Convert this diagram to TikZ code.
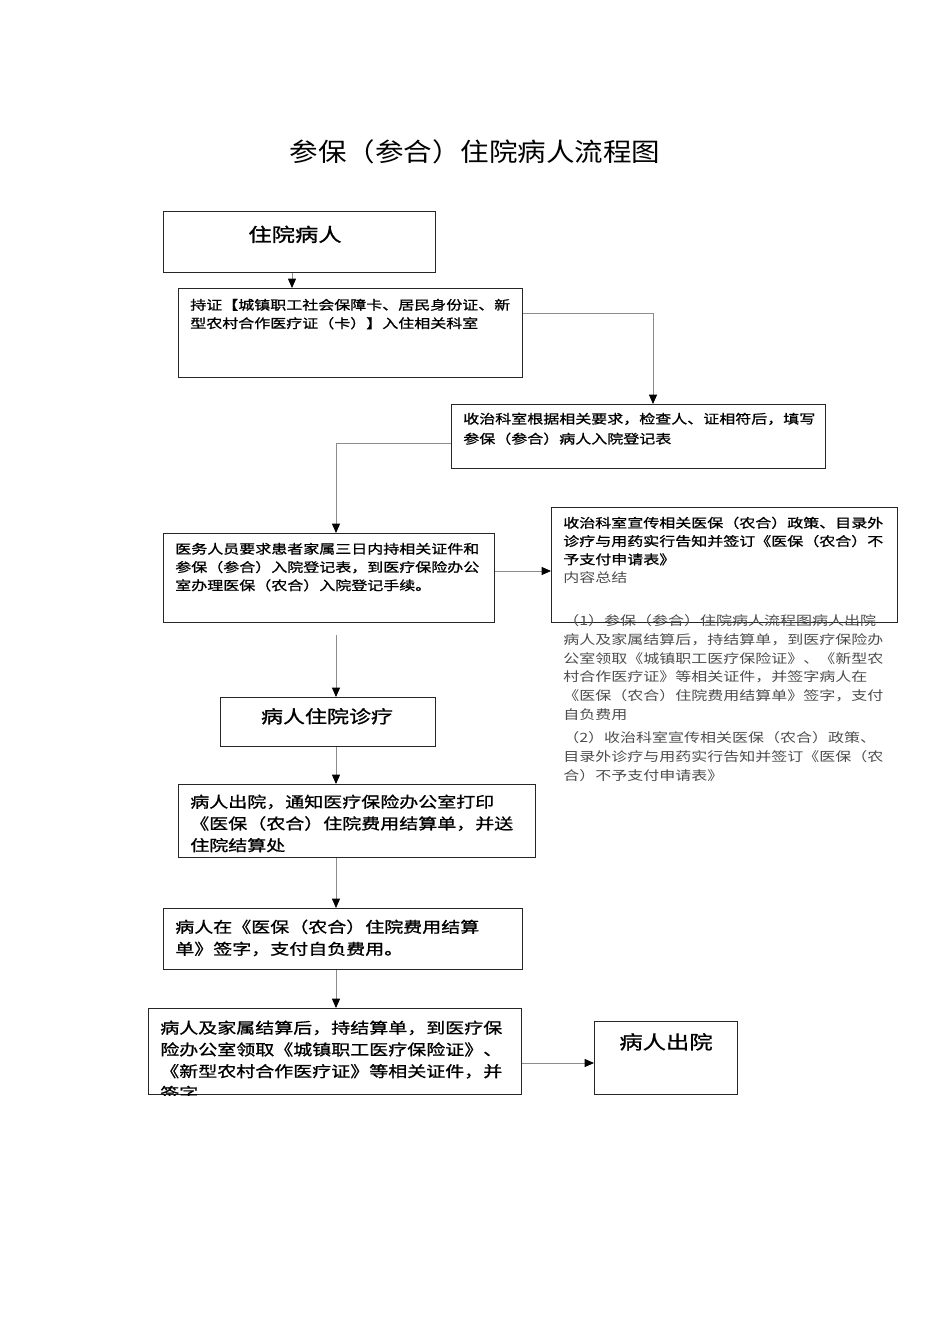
\documentclass[tikz,border=0pt]{standalone}
\usepackage{fontspec}
\setmainfont[FakeStretch=1.25,FakeBold=1]{Noto Sans CJK SC}
\newfontfamily\titlefont[FakeStretch=1.12]{Noto Sans CJK SC}
\newfontfamily\notefont[FakeStretch=1.25]{Noto Sans CJK SC}
\usetikzlibrary{calc,arrows.meta}
\newlength\px
\setlength\px{0.75pt}
\definecolor{note}{gray}{0.3}
\tikzset{
  box/.style={draw=black!85,line width=0.75pt,rectangle,inner sep=0pt,anchor=north west},
  txt/.style={inner sep=0pt,anchor=base west,align=left},
  flow/.style={draw=black!45,line width=0.6pt,-{Triangle[length=7pt,width=6pt,color=black]}},
  small/.style={font=\fontsize{9.6}{13.8}\selectfont},
  mid/.style={font=\fontsize{11.4}{16.3}\selectfont},
  big/.style={font=\fontsize{14}{17}\selectfont},
  notes/.style={text=note,font=\notefont\fontsize{9.6}{14}\selectfont}
}

\begin{document}
\begin{tikzpicture}[x=1\px,y=-1\px]
  \useasboundingbox (0,0) rectangle (950,1344);

  \node (title) at (475,162) [anchor=base,inner sep=0pt,font=\titlefont\fontsize{19.1}{22}\selectfont] {参保（参合）住院病人流程图};

  % boxes
  \node (inpat) at (163,211) [box,minimum width=272\px,minimum height=61\px] {};
  \node (permit) at (178,288) [box,minimum width=344\px,minimum height=89\px] {};
  \node (admit) at (451,404) [box,minimum width=374\px,minimum height=64\px] {};
  \node (staff) at (163,533) [box,minimum width=331\px,minimum height=89\px] {};
  \node (policy) at (551,507) [box,minimum width=346\px,minimum height=115\px] {};
  \node (treat) at (220,697) [box,minimum width=215\px,minimum height=49\px] {};
  \node (notice) at (178,784) [box,minimum width=357\px,minimum height=73\px] {};
  \node (sign) at (163,908) [box,minimum width=359\px,minimum height=61\px] {};
  \node (settle) at (148,1008) [box,minimum width=373\px,minimum height=86\px] {};
  \node (leave) at (594,1021) [box,minimum width=143\px,minimum height=73\px] {};

  % texts (multi-line nodes sit on the baseline of their last line)
  \node (inpatT) at (295,241.5) [txt,big,anchor=base] {住院病人};
  \node (permitT) at (190,328.1) [txt,small] {持证【城镇职工社会保障卡、居民身份证、新\\型农村合作医疗证（卡）】入住相关科室};
  \node (admitT) at (463,443.6) [txt,font=\fontsize{9.6}{15}\selectfont] {收治科室根据相关要求，检查人、证相符后，填写\\参保（参合）病人入院登记表};
  \node (staffT) at (175,590.2) [txt,font=\fontsize{9.6}{13.7}\selectfont] {医务人员要求患者家属三日内持相关证件和\\参保（参合）入院登记表，到医疗保险办公\\室办理医保（农合）入院登记手续。};
  \node (policyT) at (563,582.5) [txt,font=\fontsize{9.6}{13.7}\selectfont] {收治科室宣传相关医保（农合）政策、目录外\\诊疗与用药实行告知并签订《医保（农合）不\\予支付申请表》\\\textcolor{note}{\notefont 内容总结}};
  \node (sumA) at (563,719.1) [txt,notes] {（1）参保（参合）住院病人流程图病人出院\\病人及家属结算后，持结算单，到医疗保险办\\公室领取《城镇职工医疗保险证》、《新型农\\村合作医疗证》等相关证件，并签字病人在\\《医保（农合）住院费用结算单》签字，支付\\自负费用};
  \node (sumB) at (563,780) [txt,notes] {（2）收治科室宣传相关医保（农合）政策、\\目录外诊疗与用药实行告知并签订《医保（农\\合）不予支付申请表》};
  \node (treatT) at (327,723) [txt,anchor=base,font=\fontsize{13.2}{16}\selectfont] {病人住院诊疗};
  \node (noticeT) at (190,851) [txt,mid] {病人出院，通知医疗保险办公室打印\\《医保（农合）住院费用结算单，并送\\住院结算处};
  \node (signT) at (175,954.6) [txt,font=\fontsize{11.4}{16.5}\selectfont] {病人在《医保（农合）住院费用结算\\单》签字，支付自负费用。};
  \begin{scope}
    \clip (settle.north west) rectangle (settle.south east);
    \node (settleT) at (160,1098.7) [txt,mid] {病人及家属结算后，持结算单，到医疗保\\险办公室领取《城镇职工医疗保险证》、\\《新型农村合作医疗证》等相关证件，并\\签字};
  \end{scope}
  \node (leaveT) at (666,1049) [txt,big,anchor=base] {病人出院};

  % connectors
  \coordinate (c1) at ($(inpat.south west)+(129,0)$);
  \coordinate (c2) at ($(permit.north east)+(0,25)$);
  \coordinate (c3) at ($(admit.north west)+(0,39)$);
  \coordinate (c4) at ($(staff.north east)+(0,38)$);
  \coordinate (c5) at (336,635);
  \coordinate (c9) at ($(settle.north east)+(0,55)$);
  \draw[flow] (c1) -- (c1 |- permit.north);
  \draw[flow] (c2) -| ($(admit.north west)+(202,0)$);
  \draw[flow] (c3) -| ($(staff.north west)+(173,0)$);
  \draw[flow] (c4) -- (c4 -| policy.west);
  \draw[flow] (c5) -- (c5 |- treat.north);
  \draw[flow] (c5 |- treat.south) -- (c5 |- notice.north);
  \draw[flow] (c5 |- notice.south) -- (c5 |- sign.north);
  \draw[flow] (c5 |- sign.south) -- (c5 |- settle.north);
  \draw[flow] (c9) -- (c9 -| leave.west);
\end{tikzpicture}
\end{document}
